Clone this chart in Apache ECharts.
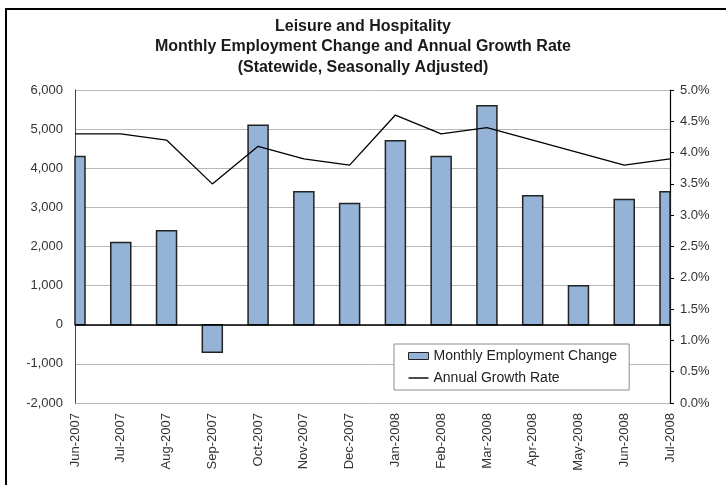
<!DOCTYPE html>
<html><head><meta charset="utf-8">
<script src="https://cdn.jsdelivr.net/npm/echarts@6/dist/echarts.min.js"></script>
<style>html,body{margin:0;padding:0;background:#fff}#c{width:726px;height:485px}</style>
</head><body><div id="c"></div>
<script>
var months = ['Jun-2007','Jul-2007','Aug-2007','Sep-2007','Oct-2007','Nov-2007','Dec-2007','Jan-2008','Feb-2008','Mar-2008','Apr-2008','May-2008','Jun-2008','Jul-2008'];
var employmentChange = [4300, 2100, 2400, -700, 5100, 3400, 3100, 4700, 4300, 5600, 3300, 1000, 3200, 3400];
var growthRate = [4.3, 4.3, 4.2, 3.5, 4.1, 3.9, 3.8, 4.6, 4.3, 4.4, 4.2, 4.0, 3.8, 3.9];
var leftTicks = {min: -2000, max: 6000, step: 1000};
var rightTicks = {min: 0, max: 5, step: 0.5};

var FONT = '"Liberation Sans Narrow", "Liberation Sans", sans-serif';
var BAR_W = 20;
var chart = echarts.init(document.getElementById('c'), null, {renderer: 'canvas'});

function renderBar(params, api) {
  var idx = api.value(0);
  var val = api.value(1);
  var p0 = api.coord([idx, 0]);
  var p1 = api.coord([idx, val]);
  var rect = {
    x: p0[0] - BAR_W / 2,
    y: Math.min(p0[1], p1[1]),
    width: BAR_W,
    height: Math.abs(p1[1] - p0[1])
  };
  var cs = params.coordSys;
  var clipped = echarts.graphic.clipRectByRect(rect, {x: cs.x, y: cs.y, width: cs.width, height: cs.height});
  if (!clipped) return;
  return {
    type: 'rect',
    shape: clipped,
    style: {fill: '#95b3d7', stroke: '#222', lineWidth: 1.5}
  };
}

chart.setOption({
  animation: false,
  backgroundColor: '#fff',
  textStyle: {fontFamily: FONT},
  graphic: [{
    type: 'rect', shape: {x: 6, y: 9, width: 760, height: 520},
    style: {fill: null, stroke: '#000', lineWidth: 2}, silent: true, z: 100
  }],
  title: {
    text: 'Leisure and Hospitality\nMonthly Employment Change and Annual Growth Rate\n(Statewide, Seasonally Adjusted)',
    left: 'center', top: 11,
    textStyle: {fontFamily: FONT, fontSize: 16, fontWeight: 'bold', color: '#1a1a1a', lineHeight: 20.5}
  },
  legend: {
    orient: 'vertical', left: 394, top: 344,
    backgroundColor: '#fff', borderColor: '#8c8c8c', borderWidth: 1,
    padding: [5, 12, 5, 14], itemGap: 8, itemWidth: 20, itemHeight: 7,
    textStyle: {fontFamily: FONT, fontSize: 14, color: '#222'},
    data: [
      {name: 'Monthly Employment Change', icon: 'rect',
       itemStyle: {color: '#95b3d7', borderColor: '#222', borderWidth: 1}},
      {name: 'Annual Growth Rate', icon: 'path://M0,0H20V1.4H0Z',
       itemStyle: {color: '#000', borderWidth: 0}}
    ]
  },
  grid: {left: 75, right: 56, top: 90, bottom: 82, containLabel: false},
  xAxis: {
    type: 'category', data: months, boundaryGap: false,
    axisLine: {show: false}, axisTick: {show: false},
    axisLabel: {rotate: 90, margin: 10, fontSize: 13, color: '#333', fontFamily: FONT, interval: 0},
    splitLine: {show: false}
  },
  yAxis: [{
    type: 'value', min: leftTicks.min, max: leftTicks.max, interval: leftTicks.step,
    axisLine: {show: true, lineStyle: {color: '#444', width: 1}},
    axisTick: {show: false},
    axisLabel: {margin: 12, fontSize: 13, color: '#333', fontFamily: FONT,
      formatter: function (v) { return v.toLocaleString('en-US'); }},
    splitLine: {show: true, lineStyle: {color: '#b8b8b8', width: 1}}
  }, {
    type: 'value', min: rightTicks.min, max: rightTicks.max, interval: rightTicks.step,
    axisLine: {show: true, lineStyle: {color: '#000', width: 1.2}},
    axisTick: {show: true, inside: false, length: 4, lineStyle: {color: '#000'}},
    axisLabel: {margin: 10, fontSize: 13, color: '#333', fontFamily: FONT,
      formatter: function (v) { return v.toFixed(1) + '%'; }},
    splitLine: {show: false}
  }],
  series: [{
    name: 'Monthly Employment Change', type: 'custom',
    data: employmentChange.map(function (v, i) { return [i, v]; }),
    encode: {x: 0, y: 1},
    yAxisIndex: 0, renderItem: renderBar, z: 2,
    itemStyle: {color: '#95b3d7'},
    markLine: {
      silent: true, symbol: 'none', label: {show: false},
      lineStyle: {color: '#000', width: 1.5, type: 'solid'},
      data: [{yAxis: 0}]
    }
  }, {
    name: 'Annual Growth Rate', type: 'line', data: growthRate,
    yAxisIndex: 1, symbol: 'none', showSymbol: false,
    lineStyle: {color: '#000', width: 1.3},
    itemStyle: {color: '#000'}, z: 3
  }]
});
</script></body></html>
